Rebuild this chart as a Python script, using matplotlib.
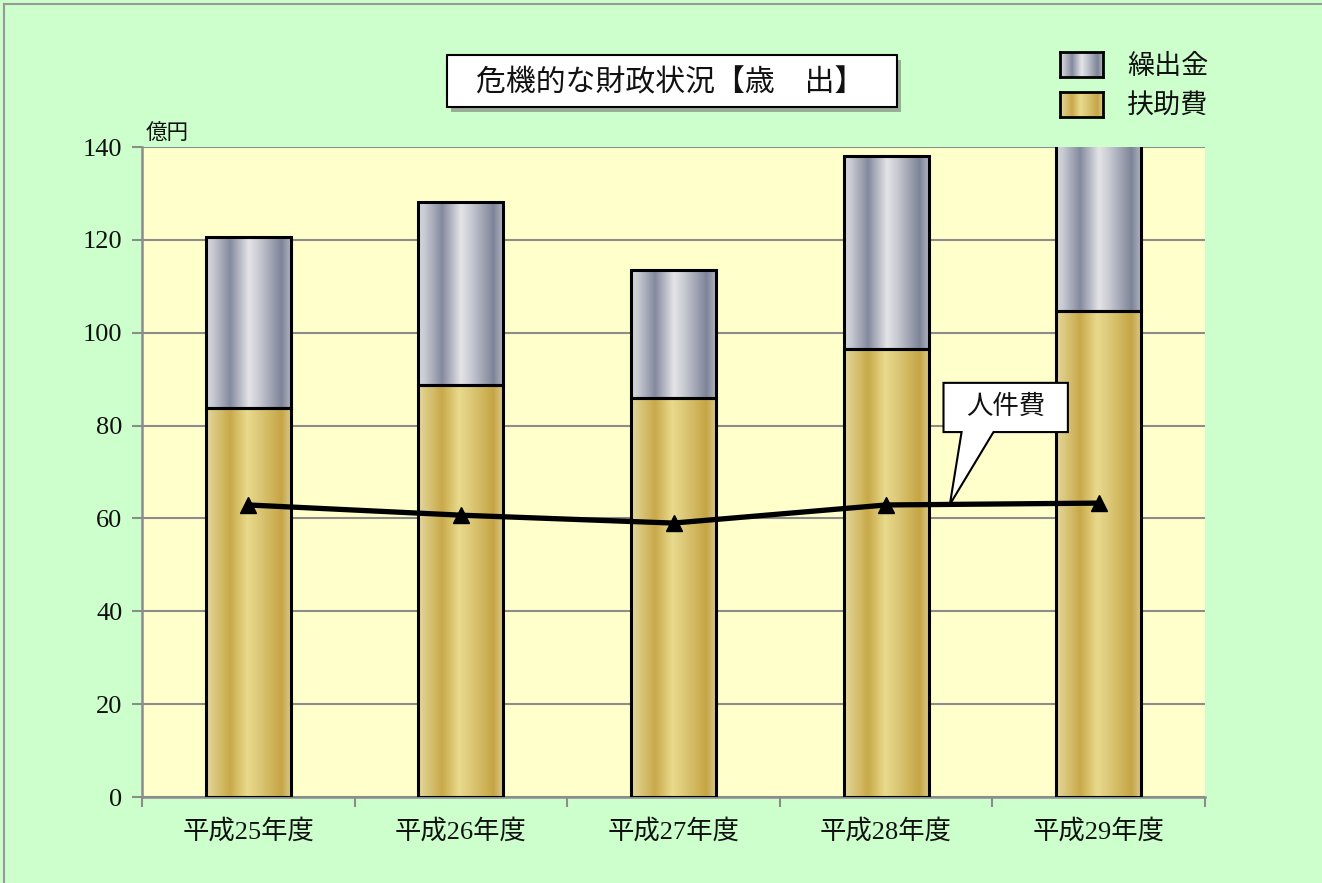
import numpy as np
import matplotlib
matplotlib.use("Agg")
import matplotlib.pyplot as plt
from matplotlib.patches import Rectangle, Polygon

plt.rcParams['font.family'] = ['Liberation Serif', 'Noto Sans CJK JP', 'DejaVu Sans']

# ---- data ----
categories = ['平成25年度', '平成26年度', '平成27年度', '平成28年度', '平成29年度']
fujohi = [83.8, 88.7, 85.9, 96.5, 104.7]          # 扶助費
kuridashi = [36.8, 39.5, 27.6, 41.6, 41.5]        # 繰出金
jinkenhi = [62.9, 60.7, 59.0, 62.9, 63.3]         # 人件費
yticks = [0, 20, 40, 60, 80, 100, 120, 140]
title = '危機的な財政状況【歳\u3000出】'
legend_labels = ['繰出金', '扶助費']
unit = '億円'
callout_text = '人件費'

W, H = 1322, 883
fig = plt.figure(figsize=(W / 100, H / 100), dpi=100)
fig.patch.set_facecolor('#CCFFCC')

def px(x0, y0, x1, y1):
    return [x0 / W, 1 - y1 / H, (x1 - x0) / W, (y1 - y0) / H]

ax = fig.add_axes(px(142, 147, 1205, 797))
ax.set_facecolor('#FFFFCC')
YMAX = yticks[-1]

def grad(stops, cols, n=256):
    t = np.linspace(0, 1, n)
    cols = np.array([matplotlib.colors.to_rgb(c) for c in cols])
    arr = np.stack([np.interp(t, stops, cols[:, k]) for k in range(3)], axis=-1)
    return arr[None, :, :]

gray_grad = grad([0, 0.08, 0.28, 0.5, 0.62, 0.88, 1.0],
                 ['#D8D9DF', '#C8CAD2', '#848A9E', '#E4E4E8', '#C8CAD2', '#7E8498', '#B4B7C4'])
gold_grad = grad([0, 0.08, 0.28, 0.48, 0.62, 0.88, 1.0],
                 ['#E6D8A0', '#DCCB84', '#C9A94A', '#E9DA8C', '#DCC878', '#C5A544', '#DCCC94'])

x = np.arange(len(categories))
bw = 0.40
bars_f = ax.bar(x, fujohi, width=bw, facecolor='none', edgecolor='black', linewidth=2.2, zorder=4)
bars_k = ax.bar(x, kuridashi, bottom=fujohi, width=bw, facecolor='none', edgecolor='black',
                linewidth=2.2, zorder=4)
for bars, g in ((bars_f, gold_grad), (bars_k, gray_grad)):
    for b in bars:
        x0, y0 = b.get_x(), b.get_y()
        y1 = min(y0 + b.get_height(), YMAX)
        im = ax.imshow(g, extent=[x0, x0 + b.get_width(), y0, y1],
                       aspect='auto', interpolation='bilinear', zorder=3)
        im.set_clip_path(b)

ax.plot(x, jinkenhi, color='black', lw=3.8, marker='^', ms=11, zorder=6)

ax.set_xlim(-0.5, len(categories) - 0.5)
ax.set_ylim(0, YMAX)
ax.set_yticks(yticks)
ax.set_yticklabels([str(v) for v in yticks], fontsize=19, color='#111111')
ax.grid(axis='y', color='#8C8C8C', lw=1.5, zorder=1)
ax.set_axisbelow(True)
ax.set_xticks(x)
ax.set_xticklabels(categories, fontsize=19, color='#111111')
ax.set_xticks(np.arange(-0.5, len(categories)), minor=True)
ax.tick_params(axis='x', which='major', length=0, pad=16)
ax.tick_params(axis='x', which='minor', length=7, width=1.5, color='#8C8C8C', direction='out')
ax.tick_params(axis='y', length=7, width=1.5, color='#8C8C8C', direction='out', pad=7)
for s in ('top', 'right'):
    ax.spines[s].set_visible(False)
for s in ('left', 'bottom'):
    ax.spines[s].set_color('#8C8C8C')
    ax.spines[s].set_linewidth(1.8)

# unit label
fig.text(146 / W, 1 - 135 / H, unit, fontsize=15.5, va='center', ha='left', color='#111111')

# callout for 人件費
tip_x = 3 + 0.30
tip_y = np.interp(tip_x, x, jinkenhi)
bx0, bx1 = tip_x - 0.03, tip_x + 0.555
by0, by1 = 78.6, 89.2
wb0, wb1 = tip_x + 0.055, tip_x + 0.205
call = Polygon([(bx0, by1), (bx1, by1), (bx1, by0), (wb1, by0), (tip_x, tip_y),
                (wb0, by0), (bx0, by0)], closed=True, facecolor='white',
               edgecolor='black', lw=1.5, zorder=7)
ax.add_patch(call)
ax.text((bx0 + bx1) / 2, (by0 + by1) / 2 + 0.2, callout_text, fontsize=19, ha='center',
        va='center', zorder=8, color='#111111')

# title box with shadow
sh = Rectangle((451 / W, 1 - 112 / H), 450 / W, 52 / H, transform=fig.transFigure,
               facecolor='#777777', edgecolor='none', alpha=0.6, zorder=1)
fig.patches.append(sh)
tb = Rectangle((447 / W, 1 - 107 / H), 450 / W, 52 / H, transform=fig.transFigure,
               facecolor='white', edgecolor='black', lw=1.5, zorder=2)
fig.patches.append(tb)
fig.text(670 / W, 1 - 83 / H, title, fontsize=21.5, ha='center', va='center', color='#111111',
         zorder=3)

# legend
for (y0, y1), g, lab in (((52, 77), gray_grad, legend_labels[0]),
                         ((92, 117), gold_grad, legend_labels[1])):
    lax = fig.add_axes(px(1060, y0, 1103, y1))
    lax.imshow(g, aspect='auto', interpolation='bilinear')
    lax.set_xticks([]); lax.set_yticks([])
    for s in lax.spines.values():
        s.set_linewidth(2); s.set_color('black')
    fig.text(1127 / W, 1 - ((y0 + y1) / 2 + 3) / H, lab, fontsize=19.5, ha='left',
             va='center', color='#111111')

# outer border
fig.add_artist(plt.Line2D([4 / W, 4 / W], [0, 1 - 4 / H], transform=fig.transFigure,
                          color='#999999', lw=1.5))
fig.add_artist(plt.Line2D([4 / W, 1], [1 - 4 / H, 1 - 4 / H], transform=fig.transFigure,
                          color='#999999', lw=1.5))

fig.savefig('out.png', dpi=100, facecolor=fig.get_facecolor())
